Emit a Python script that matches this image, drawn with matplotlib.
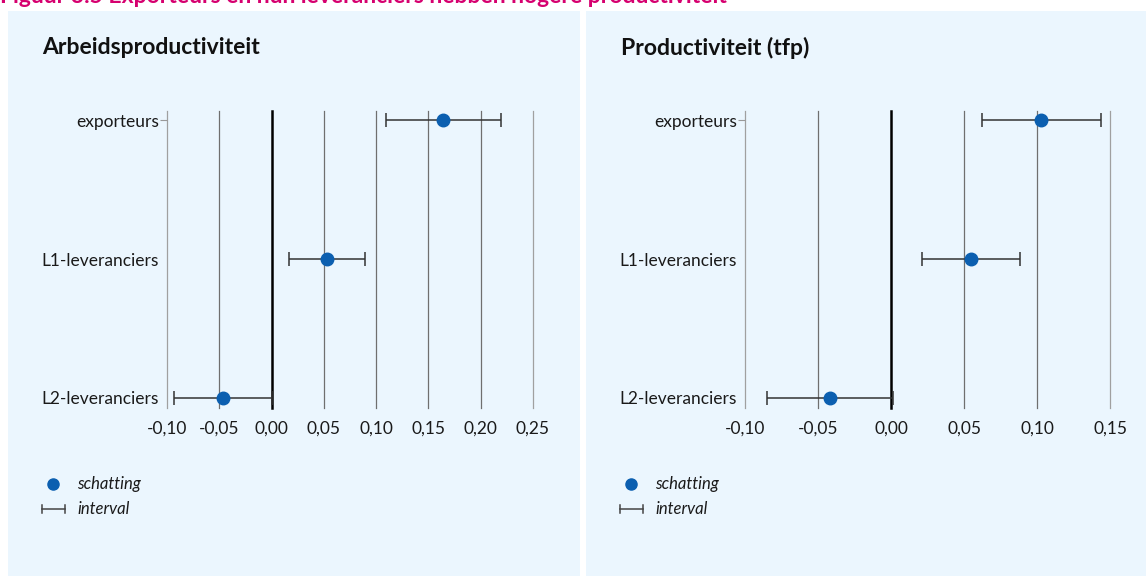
import matplotlib.pyplot as plt
from matplotlib.patches import Rectangle
from matplotlib.lines import Line2D

# groups, top to bottom
groups = ["exporteurs", "L1-leveranciers", "L2-leveranciers"]

# arbeidsproductiviteit: estimate and interval bounds
arb_est = [0.164, 0.053, -0.046]
arb_low = [0.109, 0.017, -0.093]
arb_high = [0.219, 0.089, 0.000]
arb_ticks = [-0.10, -0.05, 0.00, 0.05, 0.10, 0.15, 0.20, 0.25]

# productiviteit (tfp)
tfp_est = [0.103, 0.055, -0.042]
tfp_low = [0.062, 0.021, -0.085]
tfp_high = [0.144, 0.0885, 0.0015]
tfp_ticks = [-0.10, -0.05, 0.00, 0.05, 0.10, 0.15]

W, H = 1146, 576
plt.rcParams['font.family'] = ['Lato', 'DejaVu Sans']

fig = plt.figure(figsize=(W / 100, H / 100), dpi=100)
fig.patch.set_facecolor('white')

panel_color = '#ebf6fe'
dot_color = '#0b5fb0'
bar_color = '#333333'

# light blue panels behind each chart
fig.patches.append(Rectangle((8 / W, 0), 572 / W, 1 - 11 / H, transform=fig.transFigure,
                             facecolor=panel_color, edgecolor='none', zorder=-5))
fig.patches.append(Rectangle((586 / W, 0), 560 / W, 1 - 11 / H, transform=fig.transFigure,
                             facecolor=panel_color, edgecolor='none', zorder=-5))

fig.text(0, 1 - 3 / H, "Figuur 3.5 Exporteurs en hun leveranciers hebben hogere productiviteit",
         color='#d6006f', fontsize=16.5, fontweight='bold', va='baseline', ha='left')


def draw_panel(left_px, right_px, title, title_x, est, low, high, ticks, legend_x):
    ax = fig.add_axes([left_px / W, 1 - 408 / H, (right_px - left_px) / W, 297 / H])
    ax.set_facecolor('none')
    ax.set_zorder(2)
    ypos = list(range(len(groups)))
    err = [[e - l for e, l in zip(est, low)], [h - e for e, h in zip(est, high)]]

    for t in ticks:
        if t == 0:
            ax.axvline(t, color='black', lw=1.8, zorder=1, clip_on=False)
        elif t == ticks[0] or t == ticks[-1]:
            ax.axvline(t, color='#a0a0a0', lw=0.9, zorder=1, clip_on=False)
        else:
            ax.axvline(t, color='#6f6f6f', lw=0.9, zorder=1, clip_on=False)

    ax.errorbar(est, ypos, xerr=err, fmt='none', ecolor=bar_color, elinewidth=1.1,
                capsize=5, capthick=1.1, zorder=2)
    ax.plot(est, ypos, 'o', color=dot_color, markersize=9, zorder=3)

    ax.set_xlim(ticks[0], ticks[-1])
    ax.set_ylim(2 + 10 / 139, -9 / 139)
    ax.set_xticks(ticks)
    ax.set_xticklabels([f"{t:.2f}".replace('.', ',') for t in ticks])
    ax.set_yticks(ypos)
    ax.set_yticklabels(groups)
    ax.tick_params(axis='x', length=0, pad=9, labelsize=12.5, colors='#1a1a1a')
    ax.tick_params(axis='y', length=5, width=0.8, color='#999999', pad=1, labelsize=12.5,
                   labelcolor='#1a1a1a')
    for tl in ax.yaxis.get_ticklines()[2:]:
        tl.set_visible(False)
    for s in ax.spines.values():
        s.set_visible(False)

    fig.text(title_x / W, 1 - 48 / H, title, fontsize=16.5, fontweight='bold',
             color='#111111', va='center', ha='left')

    # legend
    fig.add_artist(Line2D([(legend_x + 11) / W], [1 - 484 / H], marker='o', color=dot_color,
                          markersize=8, linestyle='none', transform=fig.transFigure))
    fig.add_artist(Line2D([legend_x / W, (legend_x + 23) / W], [1 - 509 / H, 1 - 509 / H],
                          color='#444444', lw=1.1, transform=fig.transFigure))
    for xx in (legend_x, legend_x + 23):
        fig.add_artist(Line2D([xx / W, xx / W], [1 - 505 / H, 1 - 513 / H],
                              color='#444444', lw=1.1, transform=fig.transFigure))
    fig.text((legend_x + 35) / W, 1 - 484 / H, "schatting", fontsize=12, style='italic',
             color='#1a1a1a', va='center')
    fig.text((legend_x + 35) / W, 1 - 509 / H, "interval", fontsize=12, style='italic',
             color='#1a1a1a', va='center')
    return ax


draw_panel(167, 533, "Arbeidsproductiviteit", 42, arb_est, arb_low, arb_high, arb_ticks, 42)
draw_panel(745.3, 1110, "Productiviteit (tfp)", 621, tfp_est, tfp_low, tfp_high, tfp_ticks, 620)

fig.savefig("out.png", dpi=100, facecolor=fig.get_facecolor())
